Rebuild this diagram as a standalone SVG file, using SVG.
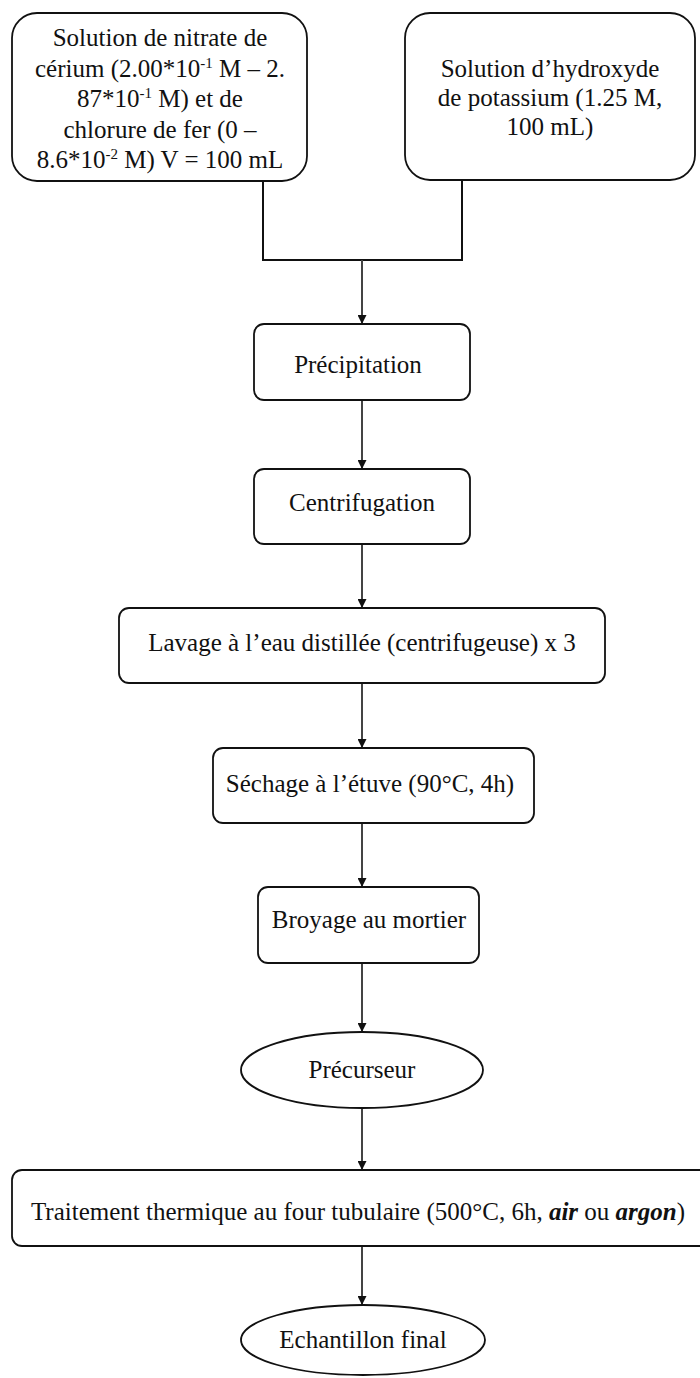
<svg xmlns="http://www.w3.org/2000/svg" width="700" height="1378" viewBox="0 0 700 1378">
<style>
.box{fill:#fff;stroke:#111;stroke-width:1.8}
.t{font-family:'Liberation Serif','Times New Roman','DejaVu Serif',serif;font-size:25px;fill:#111;text-anchor:middle}
.c{fill:none;stroke:#444;stroke-width:2}
.s{font-size:15px}
</style>
<defs>
<marker id="ar" viewBox="0 0 10 10" refX="10" refY="5" markerWidth="10" markerHeight="9" markerUnits="userSpaceOnUse" orient="auto">
<path d="M0,0 L10,5 L0,10 z" fill="#111"/>
</marker>
</defs>
<rect width="700" height="1378" fill="#fff"/>
<g id="connectors">
<polyline class="c" points="263,181 263,260 462,260 462,181" style="stroke:#111"/>
<line class="c" x1="362" y1="260" x2="362" y2="324" marker-end="url(#ar)"/>
<line class="c" x1="362" y1="400" x2="362" y2="469" marker-end="url(#ar)"/>
<line class="c" x1="362" y1="544" x2="362" y2="608" marker-end="url(#ar)"/>
<line class="c" x1="362" y1="683" x2="362" y2="748" marker-end="url(#ar)"/>
<line class="c" x1="362" y1="823" x2="362" y2="887" marker-end="url(#ar)"/>
<line class="c" x1="362" y1="963" x2="362" y2="1032" marker-end="url(#ar)"/>
<line class="c" x1="362" y1="1108" x2="362" y2="1170" marker-end="url(#ar)"/>
<line class="c" x1="362" y1="1246" x2="362" y2="1305" marker-end="url(#ar)"/>
</g>
<g id="n1">
<rect class="box" x="12" y="13" width="295" height="168" rx="25"/>
<text class="t" x="160" y="46">Solution de nitrate de</text>
<text class="t" x="160" y="77">cérium (2.00*10<tspan class="s" dy="-9">-1</tspan><tspan dy="9"> M – 2.</tspan></text>
<text class="t" x="160" y="107">87*10<tspan class="s" dy="-9">-1</tspan><tspan dy="9"> M) et de</tspan></text>
<text class="t" x="160" y="138">chlorure de fer (0 –</text>
<text class="t" x="160" y="168">8.6*10<tspan class="s" dy="-9">-2</tspan><tspan dy="9"> M) V = 100 mL</tspan></text>
</g>
<g id="n2">
<rect class="box" x="405" y="13" width="290" height="167" rx="25"/>
<text class="t" x="550" y="77">Solution d’hydroxyde</text>
<text class="t" x="550" y="106">de potassium (1.25 M,</text>
<text class="t" x="550" y="135">100 mL)</text>
</g>
<g id="n3">
<rect class="box" x="254" y="324" width="216" height="76" rx="10"/>
<text class="t" x="358" y="373">Précipitation</text>
</g>
<g id="n4">
<rect class="box" x="254" y="469" width="216" height="75" rx="10"/>
<text class="t" x="362" y="511">Centrifugation</text>
</g>
<g id="n5">
<rect class="box" x="119" y="608" width="486" height="75" rx="10"/>
<text class="t" x="362" y="651">Lavage à l’eau distillée (centrifugeuse) x 3</text>
</g>
<g id="n6">
<rect class="box" x="213" y="748" width="321" height="75" rx="10"/>
<text class="t" x="370" y="792">Séchage à l’étuve (90°C, 4h)</text>
</g>
<g id="n7">
<rect class="box" x="258" y="887" width="221" height="76" rx="10"/>
<text class="t" x="369" y="928">Broyage  au mortier</text>
</g>
<g id="n8">
<ellipse class="box" cx="362" cy="1070" rx="121" ry="38"/>
<text class="t" x="362" y="1078">Précurseur</text>
</g>
<g id="n9">
<rect class="box" x="12" y="1170" width="700" height="76" rx="10"/>
<text class="t" x="358" y="1220">Traitement thermique au four tubulaire (500°C, 6h, <tspan font-style="italic" font-weight="bold">air</tspan> ou <tspan font-style="italic" font-weight="bold">argon</tspan>)</text>
</g>
<g id="n10">
<ellipse class="box" cx="363" cy="1340" rx="122" ry="35"/>
<text class="t" x="363" y="1348">Echantillon final</text>
</g>
</svg>
